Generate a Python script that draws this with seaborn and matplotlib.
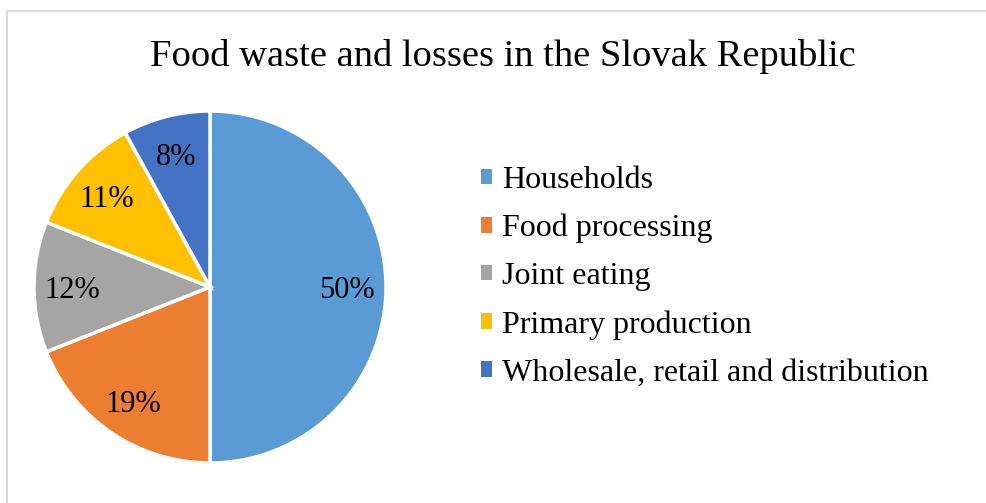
import matplotlib
matplotlib.use("Agg")
import matplotlib.pyplot as plt
from matplotlib.patches import Rectangle, Patch
import seaborn as sns

categories = ["Households", "Food processing", "Joint eating",
              "Primary production", "Wholesale, retail and distribution"]
shares = [50, 19, 12, 11, 8]
colors = ["#5B9BD5", "#ED7D31", "#A5A5A5", "#FFC000", "#4472C4"]
title = "Food waste and losses in the Slovak Republic"

sns.set_theme(style="white")
plt.rcParams["font.family"] = ["Liberation Serif", "DejaVu Serif"]
plt.rcParams["text.color"] = "black"
palette = sns.color_palette(colors)

fig = plt.figure(figsize=(9.87, 5.03), dpi=100)
fig.patch.set_facecolor("white")

# chart area frame (runs off the right and bottom edges)
fig.patches.append(Rectangle((7 / 987, -0.05), 1.2, 1 - 11 / 503 + 0.05,
                             transform=fig.transFigure, fill=False,
                             edgecolor="#D9D9D9", linewidth=1.5))

fig.text(503 / 987, 1 - 57 / 503, title, ha="center", va="center",
         fontsize=27.7, color="black")

# pie axes: centre (210, 287) px, radius ~176 px
r = 176
ax = fig.add_axes([(210 - r) / 987, 1 - (287 + r) / 503, 2 * r / 987, 2 * r / 503])
wedges, texts, autotexts = ax.pie(
    shares, colors=palette, startangle=90, counterclock=False,
    autopct=lambda p: f"{p:.0f}%", pctdistance=0.78,
    wedgeprops=dict(edgecolor="white", linewidth=2.5),
    textprops=dict(fontsize=22, color="black"))
for t in autotexts:
    t.set_va("center_baseline")
ax.set_aspect("equal")
ax.set_xlim(-1, 1)
ax.set_ylim(-1, 1)

handles = [Patch(facecolor=c, edgecolor="none") for c in palette]
leg = fig.legend(handles, categories, loc="upper left",
                 bbox_to_anchor=(481 / 987, 1 - 166 / 503), frameon=False,
                 fontsize=23, handlelength=0.36, handleheight=0.36,
                 handletextpad=0.3, labelspacing=0.59, borderaxespad=0,
                 borderpad=0)
for t in leg.get_texts():
    t.set_color("black")

fig.savefig("out.png", dpi=100)
